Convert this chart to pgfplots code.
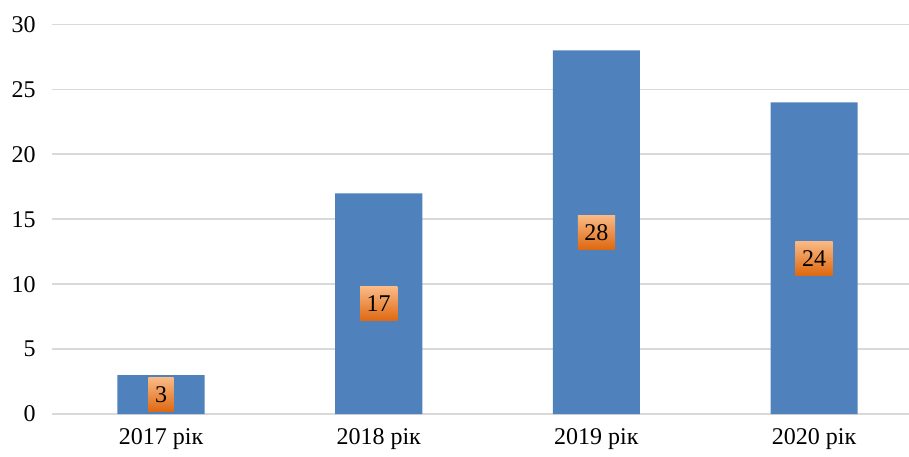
\documentclass[border=0pt]{standalone}
\usepackage{fontspec}
\setmainfont{Liberation Serif}
\usepackage{pgfplots}
\pgfplotsset{compat=1.18}
\definecolor{barblue}{RGB}{79,129,189}
\definecolor{gridgray}{RGB}{217,217,217}
\definecolor{otop}{RGB}{250,186,134}
\definecolor{obot}{RGB}{222,104,16}
\begin{document}
\fontsize{12pt}{14pt}\selectfont
\begin{tikzpicture}
\begin{axis}[
  at={(0,0)}, anchor=south west,
  scale only axis,
  width=428.5pt, height=194.75pt,
  xmin=-0.5008, xmax=3.436,
  ymin=0, ymax=30,
  ytick={0,5,...,30},
  xtick={0,1,2,3},
  xticklabels={2017 рік,2018 рік,2019 рік,2020 рік},
  axis line style={draw=none},
  major tick length=0pt,
  ymajorgrids,
  grid style={gridgray, line width=0.9pt},
  tick label style={font=\fontsize{12pt}{14pt}\selectfont},
  /pgf/number format/assume math mode=true,
  yticklabel style={xshift=-4pt},
  xticklabel style={yshift=-3pt},
  clip=false,
]
\addplot[ybar, bar width=0.4, fill=barblue, draw=none] coordinates {(0,3) (1,17) (2,28) (3,24)};
\addplot[draw=none, mark=none, point meta=explicit,
  nodes near coords,
  nodes near coords align={center},
  every node near coord/.append style={
    top color=otop, bottom color=obot,
    inner xsep=3.3pt, inner ysep=0pt, minimum height=17pt,
    text=black, font=\fontsize{12pt}{14pt}\selectfont, anchor=center}
] coordinates {(0,1.5)[3] (1,8.5)[17] (2,14)[28] (3,12)[24]};
\end{axis}
\pgfresetboundingbox
\path[use as bounding box] (-26pt,-21pt) rectangle (428.5pt,207pt);
\end{tikzpicture}
\end{document}
